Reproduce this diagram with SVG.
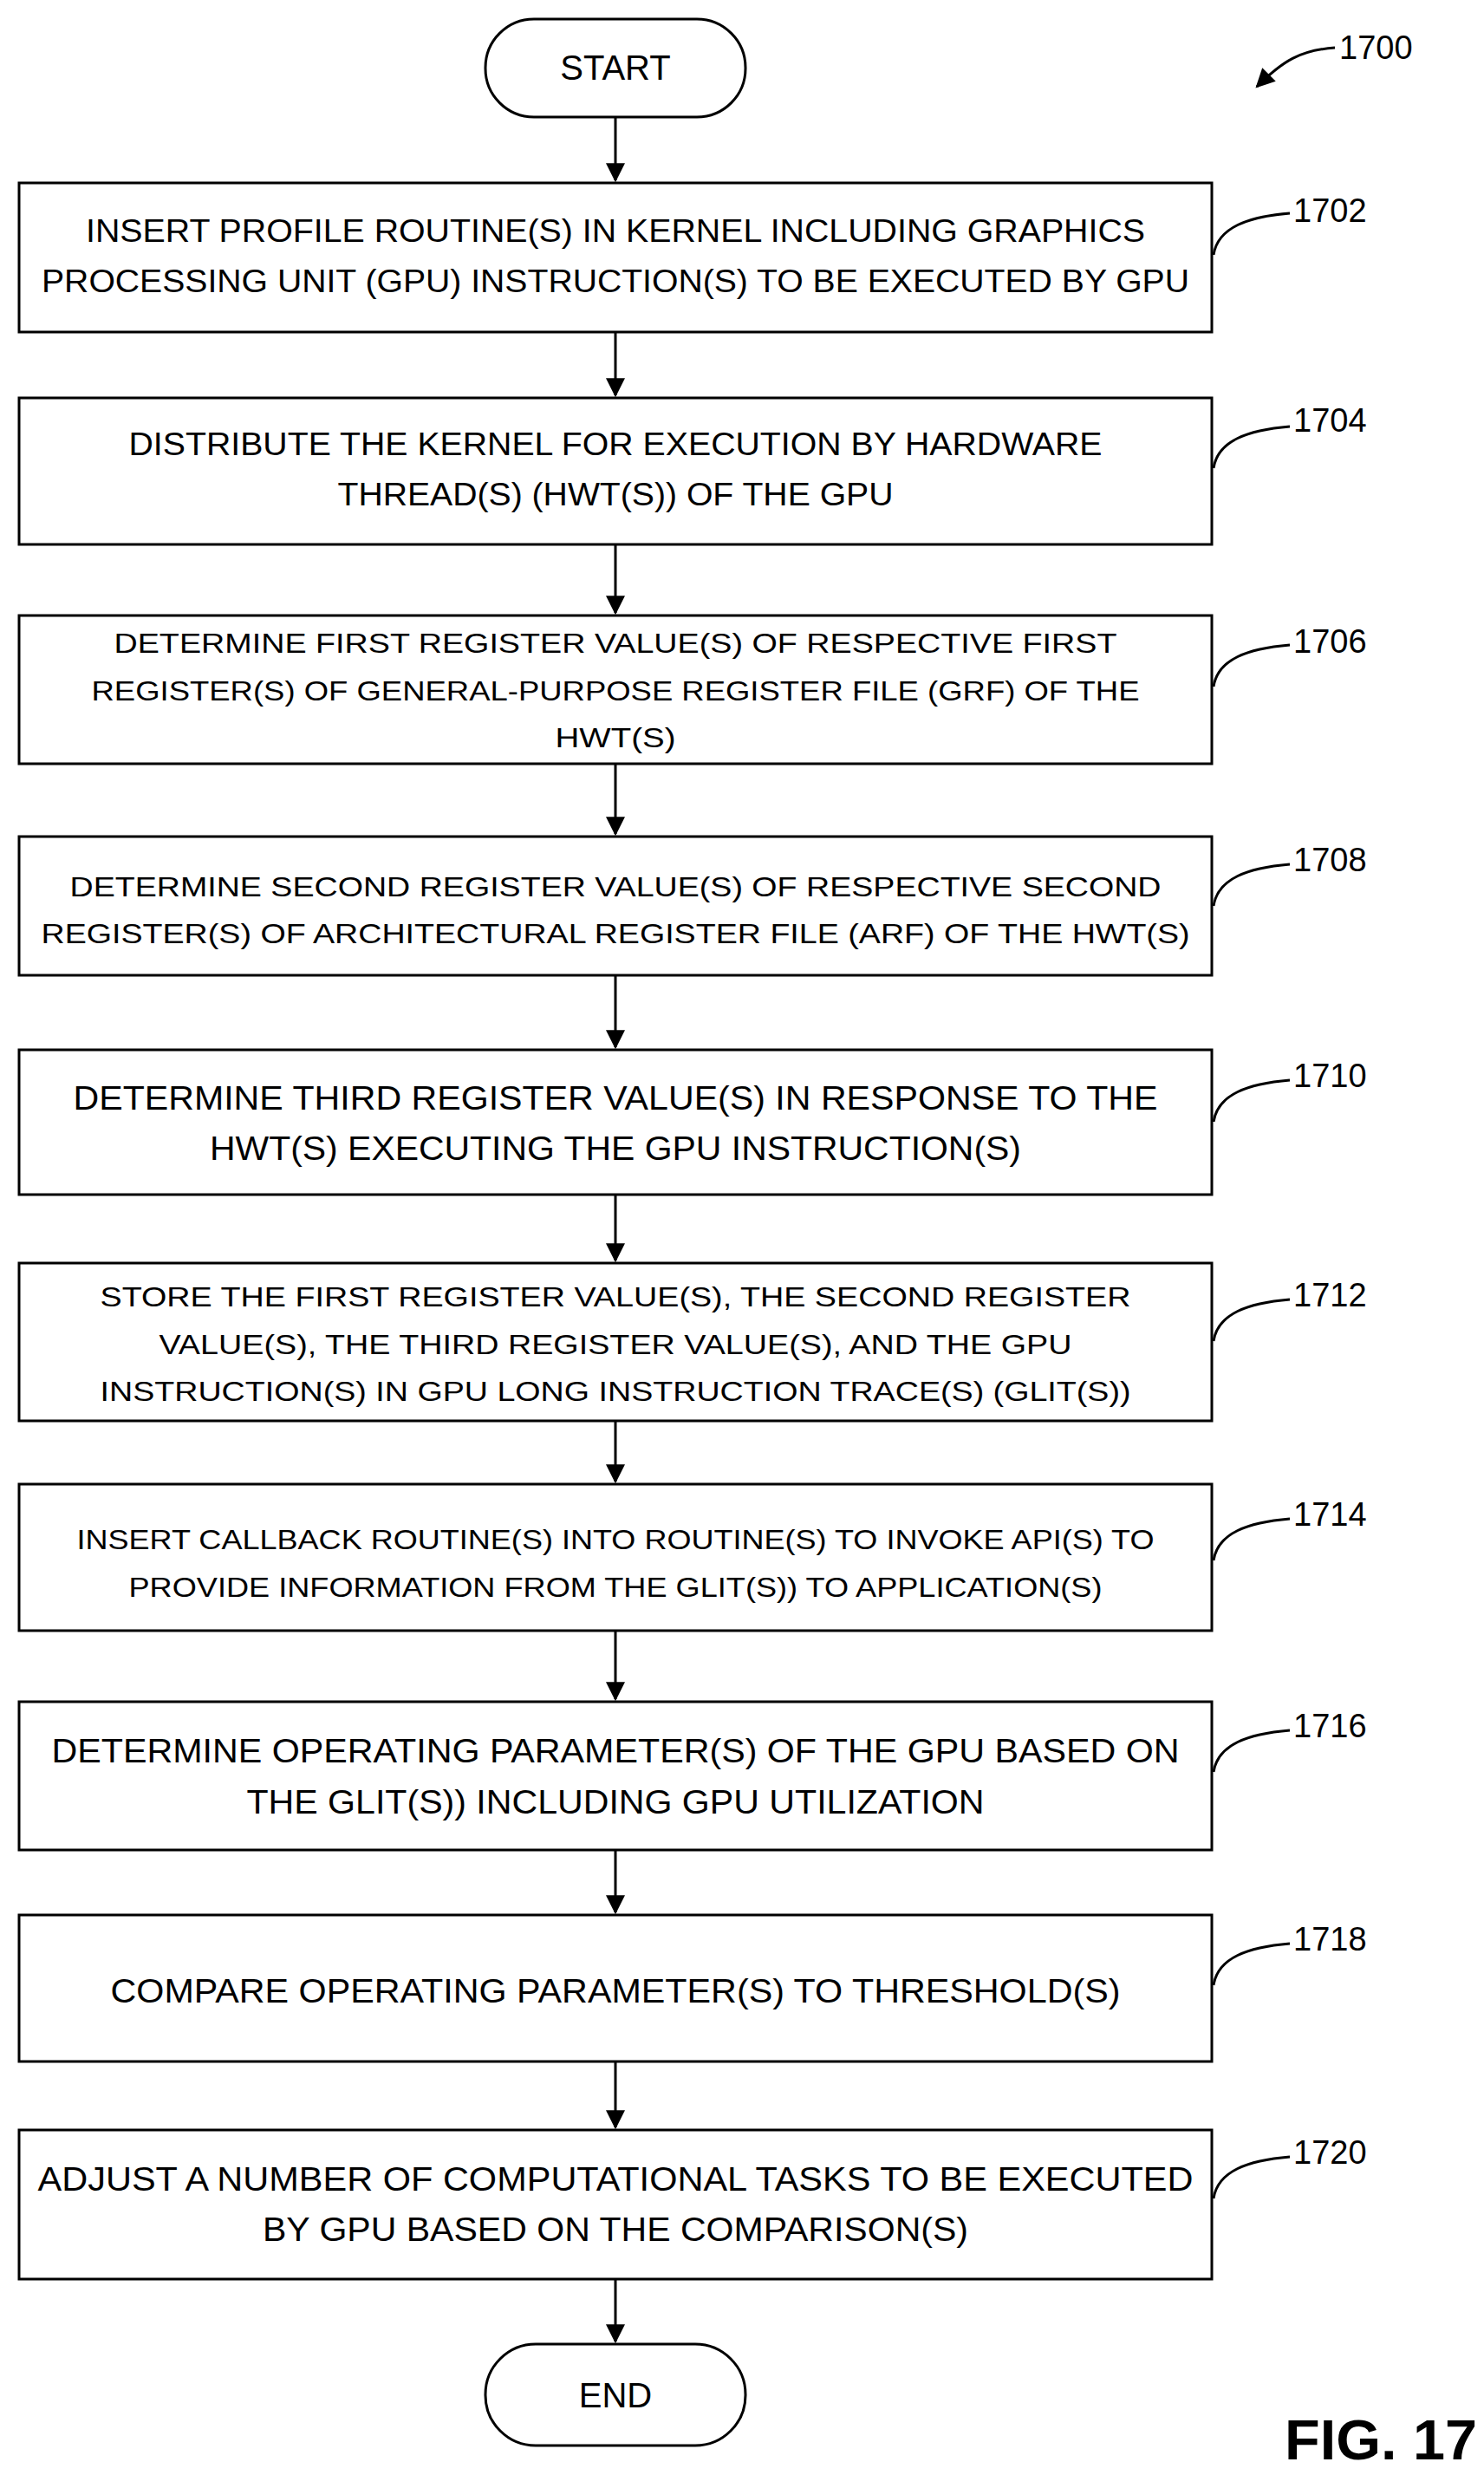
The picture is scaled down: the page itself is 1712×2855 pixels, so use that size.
<svg xmlns="http://www.w3.org/2000/svg" width="1712" height="2855" viewBox="0 0 1712 2855">
<style>
.b{fill:#fff;stroke:#000;stroke-width:3}
.t{font-family:"Liberation Sans",Arial,sans-serif;fill:#000;text-anchor:middle}
.l{font-family:"Liberation Sans",Arial,sans-serif;fill:#000;font-size:38px}
.c{fill:none;stroke:#000;stroke-width:3}
</style>
<defs><marker id="a" markerWidth="10" markerHeight="14" refX="9" refY="7" orient="auto" markerUnits="userSpaceOnUse" viewBox="0 0 10 14"><path d="M0,0 L10,7 L0,14 z" fill="#000"/></marker>
<marker id="ah" viewBox="0 0 20 20" refX="18" refY="10" markerWidth="22" markerHeight="22" orient="auto" markerUnits="userSpaceOnUse"><path d="M0,0 L20,10 L0,20 z" fill="#000"/></marker></defs>
<rect x="0" y="0" width="1712" height="2855" fill="#fff"/>
<g id="connectors" stroke="#000" stroke-width="3" fill="none">
<path d="M710,135 V208" marker-end="url(#ah)"/>
<path d="M710,383 V456" marker-end="url(#ah)"/>
<path d="M710,628 V707" marker-end="url(#ah)"/>
<path d="M710,881 V962" marker-end="url(#ah)"/>
<path d="M710,1125 V1208" marker-end="url(#ah)"/>
<path d="M710,1378 V1454" marker-end="url(#ah)"/>
<path d="M710,1639 V1709" marker-end="url(#ah)"/>
<path d="M710,1881 V1960" marker-end="url(#ah)"/>
<path d="M710,2134 V2206" marker-end="url(#ah)"/>
<path d="M710,2378 V2454" marker-end="url(#ah)"/>
<path d="M710,2629 V2701" marker-end="url(#ah)"/>
<path d="M1540,55 C1500,58 1480,70 1450,100" marker-end="url(#ah)"/>
<path d="M1400,294 C1405,262 1440,250 1488,246"/>
<path d="M1400,540 C1405,508 1440,496 1488,492"/>
<path d="M1400,792 C1405,760 1440,748 1488,744"/>
<path d="M1400,1045 C1405,1013 1440,1001 1488,997"/>
<path d="M1400,1294 C1405,1262 1440,1250 1488,1246"/>
<path d="M1400,1547 C1405,1515 1440,1503 1488,1499"/>
<path d="M1400,1800 C1405,1768 1440,1756 1488,1752"/>
<path d="M1400,2044 C1405,2012 1440,2000 1488,1996"/>
<path d="M1400,2290 C1405,2258 1440,2246 1488,2242"/>
<path d="M1400,2536 C1405,2504 1440,2492 1488,2488"/>
</g>
<text class="l" x="1545" y="68">1700</text>
<g id="start"><rect class="b" x="560" y="22" width="300" height="113" rx="56"/><text class="t" x="710" y="92" font-size="40">START</text></g>
<g id="n1702"><rect class="b" x="22" y="211" width="1376" height="172"/>
<text class="t" x="710" y="279" font-size="36" textLength="1222" lengthAdjust="spacingAndGlyphs">INSERT PROFILE ROUTINE(S) IN KERNEL INCLUDING GRAPHICS</text>
<text class="t" x="710" y="337" font-size="36" textLength="1324" lengthAdjust="spacingAndGlyphs">PROCESSING UNIT (GPU) INSTRUCTION(S) TO BE EXECUTED BY GPU</text>
<text class="l" x="1492" y="256">1702</text></g>
<g id="n1704"><rect class="b" x="22" y="459" width="1376" height="169"/>
<text class="t" x="710" y="525" font-size="36" textLength="1123" lengthAdjust="spacingAndGlyphs">DISTRIBUTE THE KERNEL FOR EXECUTION BY HARDWARE</text>
<text class="t" x="710" y="583" font-size="36" textLength="641" lengthAdjust="spacingAndGlyphs">THREAD(S) (HWT(S)) OF THE GPU</text>
<text class="l" x="1492" y="498">1704</text></g>
<g id="n1706"><rect class="b" x="22" y="710" width="1376" height="171"/>
<text class="t" x="710" y="753" font-size="32" textLength="1157" lengthAdjust="spacingAndGlyphs">DETERMINE FIRST REGISTER VALUE(S) OF RESPECTIVE FIRST</text>
<text class="t" x="710" y="808" font-size="32" textLength="1209" lengthAdjust="spacingAndGlyphs">REGISTER(S) OF GENERAL-PURPOSE REGISTER FILE (GRF) OF THE</text>
<text class="t" x="710" y="862" font-size="32" textLength="139" lengthAdjust="spacingAndGlyphs">HWT(S)</text>
<text class="l" x="1492" y="753">1706</text></g>
<g id="n1708"><rect class="b" x="22" y="965" width="1376" height="160"/>
<text class="t" x="710" y="1034" font-size="32" textLength="1259" lengthAdjust="spacingAndGlyphs">DETERMINE SECOND REGISTER VALUE(S) OF RESPECTIVE SECOND</text>
<text class="t" x="710" y="1088" font-size="32" textLength="1325" lengthAdjust="spacingAndGlyphs">REGISTER(S) OF ARCHITECTURAL REGISTER FILE (ARF) OF THE HWT(S)</text>
<text class="l" x="1492" y="1005">1708</text></g>
<g id="n1710"><rect class="b" x="22" y="1211" width="1376" height="167"/>
<text class="t" x="710" y="1280" font-size="38" textLength="1251" lengthAdjust="spacingAndGlyphs">DETERMINE THIRD REGISTER VALUE(S) IN RESPONSE TO THE</text>
<text class="t" x="710" y="1338" font-size="38" textLength="936" lengthAdjust="spacingAndGlyphs">HWT(S) EXECUTING THE GPU INSTRUCTION(S)</text>
<text class="l" x="1492" y="1254">1710</text></g>
<g id="n1712"><rect class="b" x="22" y="1457" width="1376" height="182"/>
<text class="t" x="710" y="1507" font-size="32" textLength="1189" lengthAdjust="spacingAndGlyphs">STORE THE FIRST REGISTER VALUE(S), THE SECOND REGISTER</text>
<text class="t" x="710" y="1562" font-size="32" textLength="1053" lengthAdjust="spacingAndGlyphs">VALUE(S), THE THIRD REGISTER VALUE(S), AND THE GPU</text>
<text class="t" x="710" y="1616" font-size="32" textLength="1189" lengthAdjust="spacingAndGlyphs">INSTRUCTION(S) IN GPU LONG INSTRUCTION TRACE(S) (GLIT(S))</text>
<text class="l" x="1492" y="1507">1712</text></g>
<g id="n1714"><rect class="b" x="22" y="1712" width="1376" height="169"/>
<text class="t" x="710" y="1787" font-size="32" textLength="1243" lengthAdjust="spacingAndGlyphs">INSERT CALLBACK ROUTINE(S) INTO ROUTINE(S) TO INVOKE API(S) TO</text>
<text class="t" x="710" y="1842" font-size="32" textLength="1123" lengthAdjust="spacingAndGlyphs">PROVIDE INFORMATION FROM THE GLIT(S)) TO APPLICATION(S)</text>
<text class="l" x="1492" y="1760">1714</text></g>
<g id="n1716"><rect class="b" x="22" y="1963" width="1376" height="171"/>
<text class="t" x="710" y="2033" font-size="38" textLength="1301" lengthAdjust="spacingAndGlyphs">DETERMINE OPERATING PARAMETER(S) OF THE GPU BASED ON</text>
<text class="t" x="710" y="2092" font-size="38" textLength="851" lengthAdjust="spacingAndGlyphs">THE GLIT(S)) INCLUDING GPU UTILIZATION</text>
<text class="l" x="1492" y="2004">1716</text></g>
<g id="n1718"><rect class="b" x="22" y="2209" width="1376" height="169"/>
<text class="t" x="710" y="2310" font-size="38" textLength="1165" lengthAdjust="spacingAndGlyphs">COMPARE OPERATING PARAMETER(S) TO THRESHOLD(S)</text>
<text class="l" x="1492" y="2250">1718</text></g>
<g id="n1720"><rect class="b" x="22" y="2457" width="1376" height="172"/>
<text class="t" x="710" y="2527" font-size="38" textLength="1333" lengthAdjust="spacingAndGlyphs">ADJUST A NUMBER OF COMPUTATIONAL TASKS TO BE EXECUTED</text>
<text class="t" x="710" y="2585" font-size="38" textLength="814" lengthAdjust="spacingAndGlyphs">BY GPU BASED ON THE COMPARISON(S)</text>
<text class="l" x="1492" y="2496">1720</text></g>
<g id="end"><rect class="b" x="560" y="2704" width="300" height="117" rx="58"/><text class="t" x="710" y="2777" font-size="40">END</text></g>
<text x="1482" y="2837" font-family="Liberation Sans,Arial,sans-serif" font-weight="bold" font-size="64" textLength="222" lengthAdjust="spacingAndGlyphs">FIG. 17</text>
</svg>
